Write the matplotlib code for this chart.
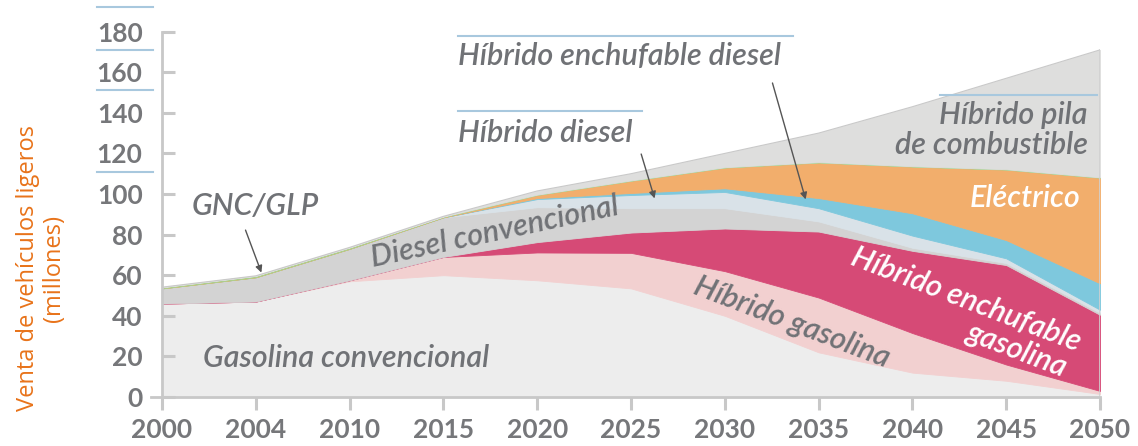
import numpy as np
import matplotlib.pyplot as plt
from matplotlib.lines import Line2D

plt.rcParams['font.family'] = ['Lato', 'DejaVu Sans']

years = ['2000', '2004', '2010', '2015', '2020', '2025', '2030', '2035', '2040', '2045', '2050']

# sales per technology, millions (stacked bottom to top)
gasolina_conv = [46, 47, 57, 60, 57.5, 53.5, 40, 22, 12, 8, 1.5]
hibrido_gasolina = [0, 0, 0.5, 9, 13.7, 17.5, 22, 27, 19.5, 8, 1.5]
enchufable_gasolina = [0, 0, 0, 0, 5.1, 10, 21, 32.5, 40.5, 49, 37.5]
diesel_conv = [7.5, 12, 15.5, 19.5, 17.2, 12, 10, 5, 1.5, 1, 1]
hibrido_diesel = [0, 0, 0, 0, 4, 6.5, 8, 6.5, 6, 2.3, 1.5]
enchufable_diesel = [0, 0, 0, 0, 0.5, 1, 1.8, 5, 11, 9, 13]
electrico = [0, 0, 0, 0.1, 1.5, 6, 10.2, 17.5, 23, 34.7, 52]
gnc_glp = [0.6, 0.7, 0.7, 0.3, 0.2, 0.2, 0.2, 0.2, 0.2, 0.2, 0.2]
pila_combustible = [0, 0, 0, 0.1, 1.8, 3.3, 6.8, 14.3, 29.3, 44.8, 62.8]

series = [gasolina_conv, hibrido_gasolina, enchufable_gasolina, diesel_conv,
          hibrido_diesel, enchufable_diesel, electrico, gnc_glp, pila_combustible]
colors = ['#ededed', '#f2d0d0', '#d64a76', '#d3d3d3',
          '#d9e2e8', '#7ec8dd', '#f2ae6c', '#a9d18e', '#dededd']

x = np.arange(len(years))
total = np.sum(series, axis=0)

fig = plt.figure(figsize=(11.38, 4.46), dpi=100)
ax = fig.add_axes([162 / 1138, 1 - 397 / 446, (1100 - 162) / 1138, (397 - 31.6) / 446])

polys = ax.stackplot(x, *series, colors=colors, linewidth=0.6)
for p, c in zip(polys, colors):
    p.set_edgecolor(c)
ax.plot(x, total, color='#c9c9c9', lw=0.8)
ax.plot([x[-1], x[-1]], [0, total[-1]], color='#d0d0d0', lw=1.2)

ax.set_xlim(0, len(years) - 1)
ax.set_ylim(0, 180)
ax.set_xticks(x)
ax.set_xticklabels(years)
ax.set_yticks(np.arange(0, 181, 20))

for s in ['top', 'right']:
    ax.spines[s].set_visible(False)
for s in ['left', 'bottom']:
    ax.spines[s].set_color('#c8c8c8')
    ax.spines[s].set_linewidth(2)
ax.spines['bottom'].set_bounds(-0.12, len(years) - 1)

tick_gray = '#76777a'
ax.tick_params(axis='x', direction='out', length=9, width=2.2, color='#c8c8c8',
               labelsize=19, labelcolor=tick_gray, pad=6)
ax.tick_params(axis='y', direction='in', length=9, width=2.2, color='#c8c8c8',
               labelsize=19, labelcolor=tick_gray, pad=14)
for lab in ax.get_xticklabels() + ax.get_yticklabels():
    lab.set_fontweight('bold')
ax.set_facecolor('none')

# label lines left over from the source layout
blue = '#a8c8de'
for py in [7, 50, 90, 172]:
    fig.add_artist(Line2D([97 / 1138, 153 / 1138], [1 - py / 446] * 2, color=blue, lw=1.5))

txt = dict(color='#707276', style='italic', fontsize=22, fontweight='semibold')

ax.text(0.44, 19, 'Gasolina convencional', ha='left', va='center', **txt)
ax.text(3.55, 81.5, 'Diesel convencional', ha='center', va='center', rotation=12,
        rotation_mode='anchor', **txt)
ax.text(0.99, 94, 'GNC/GLP', ha='center', va='center', **txt)
ax.annotate('', xy=(1.07, 60), xytext=(0.88, 83.5),
            arrowprops=dict(arrowstyle='-|>', color='#555555', lw=1, mutation_scale=10))

ax.text(3.16, 130, 'Híbrido diesel', ha='left', va='center', **txt)
ax.plot([3.16, 5.12], [141, 141], color=blue, lw=1.5, clip_on=False)
ax.annotate('', xy=(5.26, 96.5), xytext=(5.1, 121),
            arrowprops=dict(arrowstyle='-|>', color='#555555', lw=1, mutation_scale=10))

ax.text(3.16, 168, 'Híbrido enchufable diesel', ha='left', va='center', **txt)
ax.plot([3.16, 6.73], [178, 178], color=blue, lw=1.5, clip_on=False)
ax.annotate('', xy=(6.87, 96), xytext=(6.5, 156),
            arrowprops=dict(arrowstyle='-|>', color='#555555', lw=1, mutation_scale=10))

ax.text(9.87, 131.5, 'Híbrido pila\nde combustible', ha='right', va='center',
        multialignment='right', linespacing=1.05, **txt)
ax.plot([8.29, 9.97], [149, 149], color=blue, lw=1.5)

white = dict(txt, color='white')
ax.text(9.79, 98, 'Eléctrico', ha='right', va='center', **white)
ax.text(8.57, 47.8, 'Híbrido enchufable', ha='center', va='center', rotation=-21,
        rotation_mode='anchor', **white)
ax.text(9.12, 23.2, 'gasolina', ha='center', va='center', rotation=-21,
        rotation_mode='anchor', **white)
ax.text(6.72, 37, 'Híbrido gasolina', ha='center', va='center', rotation=-21,
        rotation_mode='anchor', **txt)

fig.text(41 / 1138, 1 - 268 / 446, 'Venta de vehículos ligeros\n(millones)', rotation=90,
         ha='center', va='center', multialignment='center', color='#e8731a',
         fontsize=17, family=['Open Sans', 'DejaVu Sans'], linespacing=1.15)

fig.savefig('out.png', dpi=100)
